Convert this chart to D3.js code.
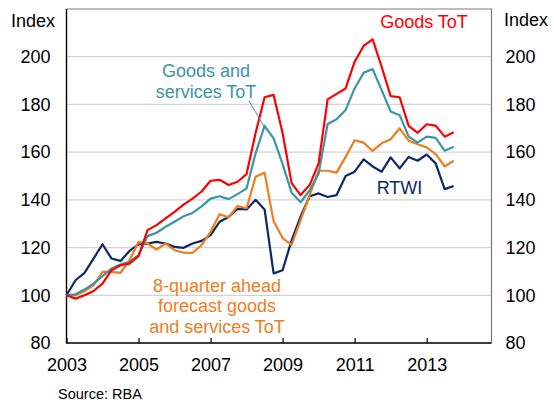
<!DOCTYPE html>
<meta charset="utf-8">
<style>
  body { margin: 0; background: #fff; }
  text { font-family: "Liberation Sans", Arial, sans-serif; }
</style>
<body>
<div id="chart"></div>
<script src="https://d3js.org/d3.v7.min.js"></script>
<script>
// quarterly observations, March 2003 = 100
const startYear = 2003;
const goodsToT = [100, 98.6, 100, 101.8, 104.9, 110.5, 112.6, 113.3, 116.4, 127.3, 129.4, 132.2,
  135, 138, 140.5, 143.5, 148, 148.4, 146.2, 147.6, 150.8, 168, 183, 184,
  168, 147, 142, 146.2, 155.3, 182.1, 184.4, 186.7, 197.9, 204.5, 207.3, 195.8,
  183.5, 183, 171, 168.1, 171.7, 171.1, 166.5, 168.3];
const goodsServToT = [100, 100.4, 102.4, 104.9, 108, 111.2, 112.9, 114, 116.8, 124.8, 126.2, 128.7,
  130.8, 133.1, 134.5, 137.3, 140.5, 141.5, 140.3, 142.4, 144.8, 159.5, 171, 165.8,
  155, 143, 139, 144, 151, 171.8, 173.8, 177.7, 186.7, 193.3, 194.8, 186,
  177, 175.5, 166.5, 164, 166.5, 166, 160.6, 162.3];
const forecastToT = [100, 100, 101.8, 104.2, 109.8, 109.8, 109.4, 114.7, 122.4, 121.7, 119.2, 121.7,
  118.9, 117.9, 117.8, 121, 126.6, 134, 132.7, 137.4, 136.5, 149.7, 151.4, 131,
  124, 121.1, 131.5, 142, 152.2, 152.2, 151.4, 158, 165, 164, 160.5, 163.7,
  165.4, 170, 164.8, 163.3, 162, 159.2, 154, 156.4];
const rtwi = [100, 106.3, 109.4, 115.4, 121.4, 115.4, 114.4, 118.6, 121.3, 121.7, 122.4, 121.7,
  120.3, 119.9, 121.7, 122.8, 125.2, 130.8, 132.8, 136.2, 136, 140, 136, 109.2,
  110.5, 123, 133, 141.5, 142.7, 141.2, 142, 150, 151.8, 157, 154, 151.8,
  157.8, 153.2, 158, 156.4, 159, 155.3, 144.5, 145.8];

const yTicks = [80, 100, 120, 140, 160, 180, 200];
const xTicks = [2003, 2005, 2007, 2009, 2011, 2013];

const series = [
  { name: "Goods ToT", values: goodsToT, color: "#ff0000" },
  { name: "Goods and services ToT", values: goodsServToT, color: "#3a95a6" },
  { name: "8-quarter ahead forecast", values: forecastToT, color: "#ef7d1e" },
  { name: "RTWI", values: rtwi, color: "#0c2869" }
];

const W = 554, H = 403;
const plot = { left: 66.5, right: 491.5, top: 9, bottom: 343 };

const x = d3.scaleLinear().domain([2003, 2014.8]).range([plot.left, plot.right]);
const y = d3.scaleLinear().domain([80, 220]).range([plot.bottom, plot.top]);

const svg = d3.select("#chart").append("svg")
    .attr("width", W)
    .attr("height", H);

// gridlines
svg.append("g")
  .selectAll("line")
  .data(yTicks.filter(d => d > 80))
  .join("line")
    .attr("x1", plot.left).attr("x2", plot.right)
    .attr("y1", d => y(d)).attr("y2", d => y(d))
    .attr("stroke", "#d4d4d4")
    .attr("stroke-width", 1.2);

// frame: top and right in grey
svg.append("path")
    .attr("d", `M${plot.left},${plot.top}H${plot.right}V${plot.bottom}`)
    .attr("fill", "none")
    .attr("stroke", "#7a7a7a")
    .attr("stroke-width", 1.2);

const styleText = g => g.selectAll("text").attr("font-size", 18).attr("fill", "#000")
    .style("font-family", "'Liberation Sans', Arial, sans-serif");

// axes
svg.append("g")
    .attr("transform", `translate(${plot.left},0)`)
    .call(d3.axisLeft(y).tickValues(yTicks).tickSize(0).tickPadding(16))
    .call(g => g.select(".domain").remove())
    .call(styleText);

svg.append("g")
    .attr("transform", `translate(${plot.right},0)`)
    .call(d3.axisRight(y).tickValues(yTicks).tickSize(0).tickPadding(14))
    .call(g => g.select(".domain").remove())
    .call(styleText);

svg.append("g")
    .attr("transform", `translate(0,${plot.bottom})`)
    .call(d3.axisBottom(x).tickValues(xTicks).tickFormat(d3.format("d"))
      .tickSizeInner(-5).tickSizeOuter(0).tickPadding(15))
    .call(g => g.select(".domain").remove())
    .call(g => g.selectAll(".tick line").attr("stroke", "#000").attr("stroke-width", 1.2))
    .call(styleText);

// left and bottom axis lines
svg.append("path")
    .attr("d", `M${plot.left},${plot.top}V${plot.bottom}H${plot.right}`)
    .attr("fill", "none")
    .attr("stroke", "#000")
    .attr("stroke-width", 1.4);

// series lines
const line = d3.line()
    .x((d, i) => x(startYear + i / 4))
    .y(d => y(d));

svg.append("g")
  .selectAll("path")
  .data(series.slice().reverse())
  .join("path")
    .attr("d", d => line(d.values))
    .attr("fill", "none")
    .attr("stroke", d => d.color)
    .attr("stroke-width", 2.2)
    .attr("stroke-linejoin", "round");

// unit labels
svg.append("text").attr("x", 55).attr("y", 27).attr("text-anchor", "end")
    .attr("font-size", 18).text("Index");
svg.append("text").attr("x", 504).attr("y", 26)
    .attr("font-size", 18).text("Index");

// annotations
const note = (lines, cx, y0, color) => {
  const t = svg.append("text").attr("font-size", 18).attr("fill", color)
      .attr("text-anchor", "middle");
  lines.forEach((s, i) => t.append("tspan").attr("x", cx).attr("y", y0 + i * 20.5).text(s));
};
note(["Goods ToT"], 424, 28, "#ff0000");
note(["Goods and", "services ToT"], 206, 77, "#3a95a6");
note(["RTWI"], 399.5, 194, "#0c2869");
note(["8-quarter ahead", "forecast goods", "and services ToT"], 217, 291.5, "#ef7d1e");

svg.append("line")
    .attr("x1", 249).attr("y1", 101)
    .attr("x2", 265).attr("y2", 128)
    .attr("stroke", "#3a95a6")
    .attr("stroke-width", 1);

svg.append("text").attr("x", 58).attr("y", 399)
    .attr("font-size", 14.5).text("Source: RBA");
</script>
</body>
